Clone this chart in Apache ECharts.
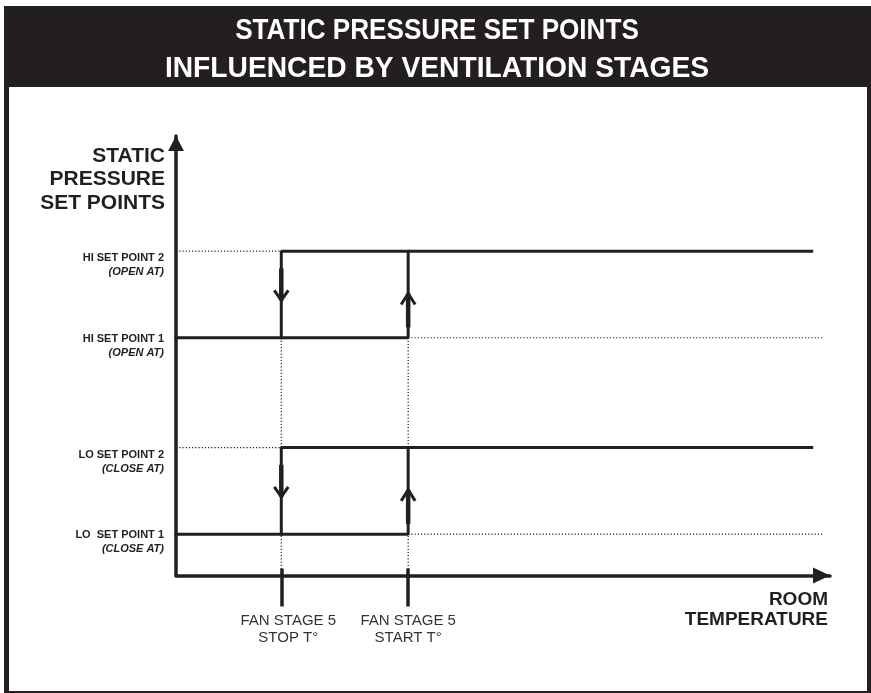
<!DOCTYPE html>
<html><head><meta charset="utf-8">
<script src="https://cdn.jsdelivr.net/npm/echarts@6/dist/echarts.min.js"></script>
<style>html,body{margin:0;padding:0;background:#fff}#c{width:871px;height:693px}</style>
</head><body><div id="c"></div>
<script>
// ---- data ----
const titleLines = ['STATIC PRESSURE SET POINTS', 'INFLUENCED BY VENTILATION STAGES'];
const yAxisTitle = ['STATIC', 'PRESSURE', 'SET POINTS'];
const xAxisTitle = ['ROOM', 'TEMPERATURE'];
const levelNames = ['LO  SET POINT 1', 'LO SET POINT 2', 'HI SET POINT 1', 'HI SET POINT 2'];
const levelNotes = ['(CLOSE AT)', '(CLOSE AT)', '(OPEN AT)', '(OPEN AT)'];
const levelValues = [9.4, 29.1, 54.1, 73.8];
const stageNames = [['FAN STAGE 5', 'STOP T°'], ['FAN STAGE 5', 'START T°']];
const stageValues = [16.1, 35.5];
const xRange = [0, 100];
const yRange = [0, 100];
const lineEnd = 97.2;
const guideEnd = 98.8;

// ---- build ----
const INK = '#231f20';
const FONT = '"Liberation Sans", Arial, sans-serif';
const [stopX, startX] = stageValues;
const loops = [[levelValues[0], levelValues[1]], [levelValues[2], levelValues[3]]];

const series = [];
function seg(data, style, z) {
  series.push({ type: 'line', data, symbol: 'none', silent: true, animation: false, z,
    lineStyle: style, clip: false });
}
const dotted = { color: INK, width: 1.2, type: [1.2, 2] };
const solid = { color: INK, width: 3, cap: 'square' };
// dotted guides
loops.forEach(([p1, p2]) => {
  seg([[xRange[0], p2], [stopX, p2]], dotted, 1);
  seg([[startX, p1], [guideEnd, p1]], dotted, 1);
});
stageValues.forEach(sx => seg([[sx, yRange[0]], [sx, levelValues[2]]], dotted, 1));
// hysteresis loops
loops.forEach(([p1, p2]) => {
  seg([[xRange[0], p1], [startX, p1], [startX, p2], [lineEnd, p2]], solid, 3);
  seg([[stopX, p1], [stopX, p2], [startX, p2]], solid, 3);
});
// direction arrows
const arrowData = [];
loops.forEach(([p1, p2]) => {
  arrowData.push([stopX, p1, p2, -1]);
  arrowData.push([startX, p1, p2, 1]);
});
series.push({
  type: 'custom', data: arrowData, silent: true, animation: false, z: 4, clip: false,
  encode: { x: 0, y: [1, 2] },
  renderItem(params, api) {
    const x = api.value(0), a = api.value(1), b = api.value(2), dir = api.value(3);
    const lo = api.coord([x, a]), hi = api.coord([x, b]);
    const px = lo[0], mid = (lo[1] + hi[1]) / 2;
    let tip, s1, s2, armY;
    if (dir < 0) { tip = mid + 6; s1 = tip - 32; s2 = tip; armY = tip - 10; }
    else { tip = mid - 1; s1 = tip; s2 = tip + 34; armY = tip + 11; }
    return { type: 'group', children: [
      { type: 'line', shape: { x1: px, y1: s1, x2: px, y2: s2 }, style: { stroke: INK, lineWidth: 4.5 } },
      { type: 'polyline', shape: { points: [[px - 7, armY], [px, tip], [px + 7, armY]] },
        style: { stroke: INK, lineWidth: 3, fill: null } }
    ]};
  }
});

const yRich = {
  g1: { lineHeight: 16, fontSize: 2 },
  g2: { lineHeight: 28, fontSize: 2 },
  a: { fontFamily: FONT, fontSize: 11, fontWeight: 'bold', color: INK, lineHeight: 14, align: 'right' },
  b: { fontFamily: FONT, fontSize: 11, fontWeight: 'bold', fontStyle: 'italic', color: INK, lineHeight: 14, align: 'right' }
};
const xRich = {
  s0: { fontFamily: FONT, fontSize: 15, color: '#333', lineHeight: 17, padding: [0, 0, 0, 14] },
  s1: { fontFamily: FONT, fontSize: 15, color: '#333', lineHeight: 17 }
};

const graphic = [
  { type: 'rect', shape: { x: 4, y: 6, width: 867, height: 81 }, style: { fill: INK }, z: 10 },
  { type: 'rect', shape: { x: 4, y: 6, width: 5, height: 687 }, style: { fill: INK }, z: 10 },
  { type: 'rect', shape: { x: 867, y: 6, width: 4, height: 687 }, style: { fill: INK }, z: 10 },
  { type: 'rect', shape: { x: 4, y: 691, width: 867, height: 2 }, style: { fill: INK }, z: 10 },
  { type: 'text', x: 437, y: 31, scaleX: 0.87, z: 11,
    style: { text: titleLines[0], fill: '#fff', font: 'bold 30px ' + FONT, textAlign: 'center', textVerticalAlign: 'middle' } },
  { type: 'text', x: 437, y: 69, scaleX: 0.94, z: 11,
    style: { text: titleLines[1], fill: '#fff', font: 'bold 30px ' + FONT, textAlign: 'center', textVerticalAlign: 'middle' } }
];
yAxisTitle.forEach((t, i) => graphic.push({ type: 'text', x: 165, y: 156 + i * 23.5, z: 11,
  style: { text: t, fill: INK, font: 'bold 21px ' + FONT, textAlign: 'right', textVerticalAlign: 'middle' } }));
xAxisTitle.forEach((t, i) => graphic.push({ type: 'text', x: 828, y: 600 + i * 20, z: 11,
  style: { text: t, fill: INK, font: 'bold 19px ' + FONT, textAlign: 'right', textVerticalAlign: 'middle' } }));

const option = {
  backgroundColor: '#fff',
  animation: false,
  grid: { left: 176, right: 41, top: 136, bottom: 117.5 },
  xAxis: [{
    type: 'value', min: xRange[0], max: xRange[1],
    axisLine: { show: true, onZero: false, symbol: ['none', 'triangle'], symbolSize: [16, 17],
      symbolOffset: [0, -8.5], lineStyle: { color: INK, width: 3.5 } },
    splitLine: { show: false },
    axisTick: { show: true, customValues: stageValues, length: 31, lineStyle: { color: INK, width: 3.5 } },
    axisLabel: { show: true, customValues: stageValues, margin: 37, rich: xRich,
      formatter: v => {
        const i = stageValues.findIndex(s => Math.abs(s - v) < 1e-6);
        if (i < 0) return '';
        return stageNames[i].map(t => `{s${i}|${t}}`).join('\n');
      } }
  }, {
    type: 'value', min: xRange[0], max: xRange[1], position: 'bottom',
    axisLine: { show: false }, splitLine: { show: false }, axisLabel: { show: false },
    axisTick: { show: true, inside: true, customValues: stageValues, length: 7, lineStyle: { color: INK, width: 3.5 } }
  }],
  yAxis: {
    type: 'value', min: yRange[0], max: yRange[1],
    axisLine: { show: true, onZero: false, symbol: ['none', 'triangle'], symbolSize: [16, 15],
      symbolOffset: [0, -7.5], lineStyle: { color: INK, width: 3.5 } },
    splitLine: { show: false },
    axisTick: { show: false },
    axisLabel: { show: true, customValues: levelValues, margin: 12, rich: yRich,
      formatter: v => {
        const i = levelValues.findIndex(s => Math.abs(s - v) < 1e-6);
        if (i < 0) return '';
        const g = levelNames[i].trim().endsWith('1') ? 'g1' : 'g2';
        return `{${g}| }\n{a|${levelNames[i]}}\n{b|${levelNotes[i]}}`;
      } }
  },
  series,
  graphic
};
const chart = echarts.init(document.getElementById('c'), null, { renderer: 'canvas' });
chart.setOption(option);
</script></body></html>
